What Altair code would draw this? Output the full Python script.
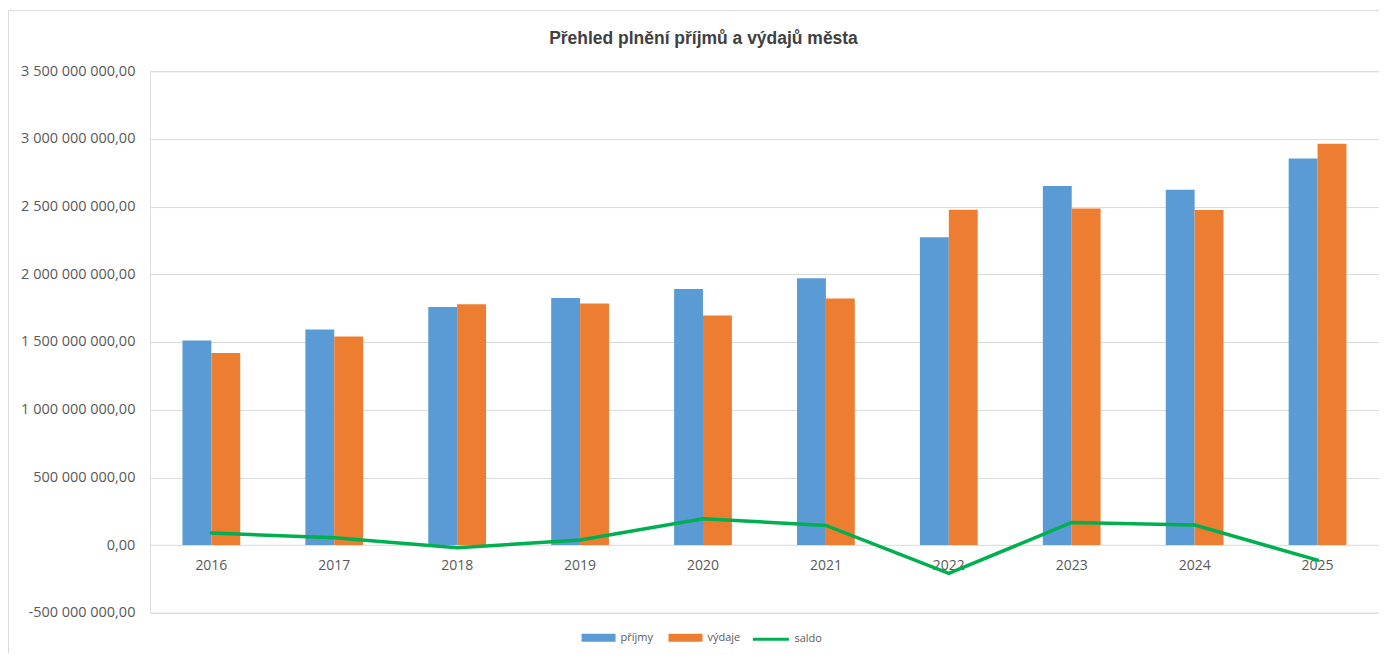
import altair as alt
import pandas as pd

years = ["2016", "2017", "2018", "2019", "2020", "2021", "2022", "2023", "2024", "2025"]
prijmy = [1511e6, 1592e6, 1759e6, 1825e6, 1892e6, 1970e6, 2273e6, 2652e6, 2625e6, 2856e6]
vydaje = [1419e6, 1540e6, 1779e6, 1784e6, 1695e6, 1821e6, 2477e6, 2485e6, 2475e6, 2965e6]
saldo = [89e6, 54e6, -20e6, 38e6, 194e6, 145e6, -209e6, 167e6, 148e6, -111e6]
y_ticks = [-5e8, 0, 5e8, 1e9, 1.5e9, 2e9, 2.5e9, 3e9, 3.5e9]
series_names = ["příjmy", "výdaje"]
bar_colors = ["#5B9BD5", "#ED7D31"]
line_name = "saldo"
line_color = "#00B050"

W, H = 1230, 542
FONT = "Open Sans"
TXT = "#595959"

bars_df = pd.DataFrame(
    [{"rok": y, "serie": series_names[0], "hodnota": p} for y, p in zip(years, prijmy)]
    + [{"rok": y, "serie": series_names[1], "hodnota": v} for y, v in zip(years, vydaje)]
)
line_df = pd.DataFrame({"rok": years, "serie": line_name, "hodnota": saldo})

label_expr = (
    "replace(replace(replace(format(datum.value, ',.2f'), regexp(',', 'g'), ' '), '.', ','), '\u2212', '-')"
)

x_enc = alt.X(
    "rok:N",
    sort=years,
    scale=alt.Scale(paddingInner=0.53, paddingOuter=0.265),
    axis=alt.Axis(
        title=None, labelAngle=0, ticks=False, domain=False, grid=False,
        offset=-68, labelPadding=14, labelFont=FONT, labelFontSize=14, labelColor=TXT,
    ),
)
y_scale = alt.Scale(domain=[-5e8, 3.5e9], nice=False, zero=False)
y_axis = alt.Axis(
    title=None, values=y_ticks, ticks=False, domain=False, grid=True,
    gridColor="#D9D9D9", gridWidth=1, labelPadding=15, labelExpr=label_expr,
    labelFont=FONT, labelFontSize=14.5, labelColor=TXT,
)

bars = alt.Chart(bars_df).mark_bar().encode(
    x=x_enc,
    xOffset=alt.XOffset("serie:N", sort=series_names, scale=alt.Scale(paddingInner=0, paddingOuter=0)),
    y=alt.Y("hodnota:Q", scale=y_scale, axis=y_axis),
    color=alt.Color(
        "serie:N",
        scale=alt.Scale(domain=series_names, range=bar_colors),
        legend=alt.Legend(
            title=None, orient="none", legendX=431, legendY=549, direction="horizontal",
            symbolType="M-1,-0.235H1V0.235H-1Z", symbolSize=1156, symbolOpacity=1,
            labelFont=FONT, labelFontSize=11, labelColor=TXT, columnPadding=14, labelOffset=4,
        ),
    ),
)

line = alt.Chart(line_df).mark_line(strokeWidth=3.5, strokeCap="round", strokeJoin="miter").encode(
    x=alt.X("rok:N", sort=years),
    y=alt.Y("hodnota:Q"),
    stroke=alt.Stroke(
        "serie:N",
        scale=alt.Scale(domain=[line_name], range=[line_color]),
        legend=alt.Legend(
            title=None, orient="none", legendX=602, legendY=549, direction="horizontal",
            symbolType="stroke", symbolSize=1296, symbolStrokeWidth=3,
            labelFont=FONT, labelFontSize=11, labelColor=TXT, labelOffset=4,
        ),
    ),
)

border = alt.Chart(alt.Data(values=[{"a": 1}])).mark_rect(
    fill=None, stroke="#D9D9D9", strokeWidth=1
).encode(
    x=alt.value(-141.5), x2=alt.value(W + 40), y=alt.value(-60.5), y2=alt.value(H + 80)
)

chart = alt.layer(border, bars, line).resolve_scale(color="independent").properties(
    width=W,
    height=H,
    title=alt.TitleParams(
        "Přehled plnění příjmů a výdajů města",
        font="Liberation Sans", fontSize=17.5, fontWeight="bold", color="#404040",
        anchor="middle", dx=-61, offset=-37,
    ),
    autosize=alt.AutoSizeParams(type="none"),
    padding={"left": 142, "top": 63, "right": 0, "bottom": 40},
).configure_view(stroke=None).configure(background="white")

chart.save("out.html", embed_options={"renderer": "svg", "actions": False})
